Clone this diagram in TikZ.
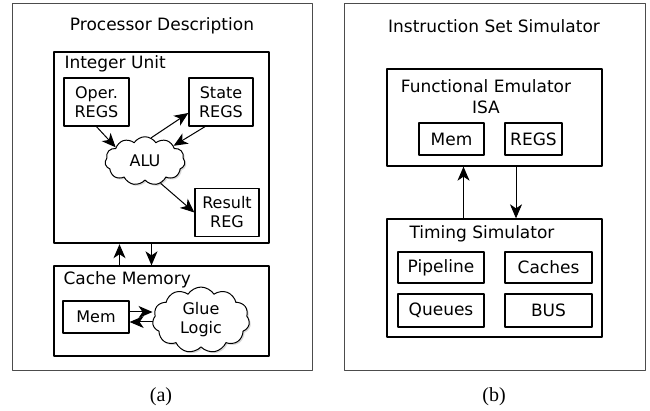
\documentclass[tikz,border=0pt]{standalone}
\usepackage{fontspec}
\setmainfont{DejaVu Sans}
\newfontfamily\capfont{Liberation Serif}
\usetikzlibrary{shapes.symbols,arrows.meta,shadows}
\begin{document}
\begin{tikzpicture}[x=1pt, y=-1pt, font=\fontsize{17}{21}\selectfont, line join=round, >={Stealth[length=14pt,width=12pt,inset=4pt]},
  frame/.style={draw=black!70, line width=1pt, inner sep=0pt},
  box/.style={draw, line width=1.3pt, inner sep=0pt, align=center},
  reg/.style={box, font=\fontsize{16}{19}\selectfont},
  puff/.style={cloud, cloud puffs=11, cloud puff arc=115, draw, line width=1pt, fill=white, inner sep=0pt, align=center,
    font=\fontsize{16}{19}\selectfont, drop shadow={shadow xshift=1.5pt, shadow yshift=-1.5pt, opacity=0.3}},
  link/.style={->, line width=1pt}]
\useasboundingbox (0,0) rectangle (650,411);
% (a) processor description
\node[frame, minimum width=300, minimum height=366] (procbox) at (162,187) {};
\node (proctitle) at (162,26) {Processor Description};
\node[box, line width=2.4pt, minimum width=215, minimum height=191] (iu) at (161.5,147.5) {};
\node[anchor=west] (iutitle) at (61,64) {Integer Unit};
\node[reg, minimum width=65, minimum height=48] (oper) at (96.5,102) {Oper.\\REGS};
\node[reg, minimum width=64, minimum height=48] (state) at (221,102) {State\\REGS};
\node[reg, minimum width=64, minimum height=48] (result) at (227,212.5) {Result\\REG};
\node[puff, minimum width=80, minimum height=45] (alu) at (145,161) {ALU};
\draw[link] (oper.south) -- (alu.155);
\draw[link] (alu.75) -- ([yshift=-11pt]state.west);
\draw[link] ([xshift=-16pt]state.south) -- (alu.28);
\draw[link] (alu.-55) -- (result.west);
\node[box, minimum width=215, minimum height=90] (cache) at (161.5,311) {};
\node[anchor=west] (cachetitle) at (60,280) {Cache Memory};
\node[reg, minimum width=66, minimum height=32] (mem) at (96,317) {Mem};
\node[puff, minimum width=97, minimum height=54] (glue) at (201,320) {Glue\\Logic};
\draw[link] ([yshift=5pt]mem.east) -- ([yshift=5pt]mem.east -| glue.west);
\draw[link] ([yshift=-5pt]mem.east -| glue.west) -- ([yshift=-5pt]mem.east);
\draw[link] ([xshift=-42pt]cache.north) -- ([xshift=-42pt]iu.south);
\draw[link] ([xshift=-10pt]iu.south) -- ([xshift=-10pt]cache.north);
\node (capa) at (161,397) {\capfont\fontsize{20}{24}\selectfont (a)};
% (b) instruction set simulator
\node[frame, minimum width=301, minimum height=366] (issbox) at (494.5,187) {};
\node (isstitle) at (494,26) {Instruction Set Simulator};
\node[box, minimum width=215, minimum height=97] (fe) at (494.5,117.5) {};
\node[align=center] (fetitle) at (486,97) {Functional Emulator\\ISA};
\node[box, minimum width=65, minimum height=32] (femem) at (451.5,139) {Mem};
\node[box, minimum width=57, minimum height=32] (feregs) at (533.5,139) {REGS};
\node[box, minimum width=215, minimum height=118] (timing) at (494.5,278) {};
\node (timingtitle) at (482,234) {Timing Simulator};
\node[box, minimum width=86, minimum height=31] (pipeline) at (441,267.5) {Pipeline};
\node[box, minimum width=87, minimum height=31] (caches) at (548.5,267.5) {Caches};
\node[box, minimum width=86, minimum height=33] (queues) at (441,310.5) {Queues};
\node[box, minimum width=87, minimum height=33] (bus) at (548.5,310.5) {BUS};
\draw[link] ([xshift=-31pt]timing.north) -- ([xshift=-31pt]fe.south);
\draw[link] ([xshift=21.5pt]fe.south) -- ([xshift=21.5pt]timing.north);
\node (capb) at (494,397) {\capfont\fontsize{20}{24}\selectfont (b)};
\end{tikzpicture}
\end{document}
